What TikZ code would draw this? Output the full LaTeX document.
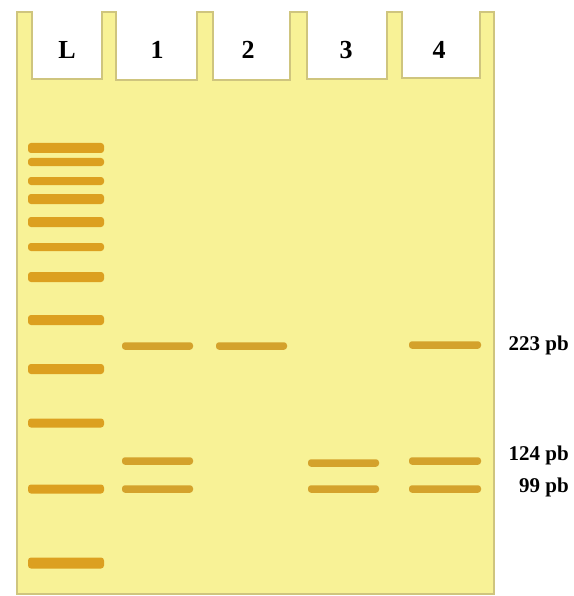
\documentclass[tikz,border=0pt]{standalone}
\usepackage{fontspec}
\setmainfont{Liberation Serif}
\definecolor{gel}{HTML}{F8F296}
\definecolor{gelline}{HTML}{CFC57E}
\definecolor{band}{HTML}{DCA020}
\definecolor{laneband}{HTML}{D4A22C}
\begin{document}
\begin{tikzpicture}[x=1pt,y=-1pt,
  welllabel/.style={font=\bfseries\fontsize{26}{26}\selectfont, inner sep=0pt},
  sizelabel/.style={font=\bfseries\fontsize{21}{21}\selectfont, inner sep=0pt, anchor=east},
  ladderband/.style={fill=band, rounded corners=3pt},
  laneband/.style={fill=laneband, rounded corners=3pt}]
\useasboundingbox (0,0) rectangle (573,596);
\fill[white] (0,0) rectangle (573,596);
% gel with wells
\draw[gelline, fill=gel, line width=1.5pt, line join=miter]
  (17,594) -- (17,12) -- (32,12) -- (32,79) -- (102,79) -- (102,12) -- (116,12)
  -- (116,80) -- (197,80) -- (197,12) -- (213,12) -- (213,80) -- (290,80)
  -- (290,12) -- (307,12) -- (307,79) -- (387,79) -- (387,12) -- (402,12)
  -- (402,78) -- (480,78) -- (480,12) -- (494,12) -- (494,594) -- cycle;
% well labels
\node[welllabel] (wL) at (67,50) {L};
\node[welllabel] (w1) at (157,50) {1};
\node[welllabel] (w2) at (248,50) {2};
\node[welllabel] (w3) at (346,50) {3};
\node[welllabel] (w4) at (439,50) {4};
% ladder
\foreach \y/\h in {148/10,162/8,181/8,199/10,222/10,247/8,277/10,320/10,369/10,423/9,489/9,563/11}
  \fill[ladderband] (28,\y-\h/2) rectangle (104,\y+\h/2);
% lane 1
\foreach \y in {346,461,489}
  \fill[laneband] (122,\y-3.75) rectangle (193,\y+3.75);
% lane 2
\fill[laneband] (216,346-3.75) rectangle (287,346+3.75);
% lane 3
\foreach \y in {463,489}
  \fill[laneband] (308,\y-3.75) rectangle (379,\y+3.75);
% lane 4
\foreach \y in {345,461,489}
  \fill[laneband] (409,\y-3.75) rectangle (481,\y+3.75);
% size labels
\node[sizelabel] (s223) at (569,345) {223 pb};
\node[sizelabel] (s124) at (569,455) {124 pb};
\node[sizelabel] (s99) at (569,487) {99 pb};
\end{tikzpicture}
\end{document}
